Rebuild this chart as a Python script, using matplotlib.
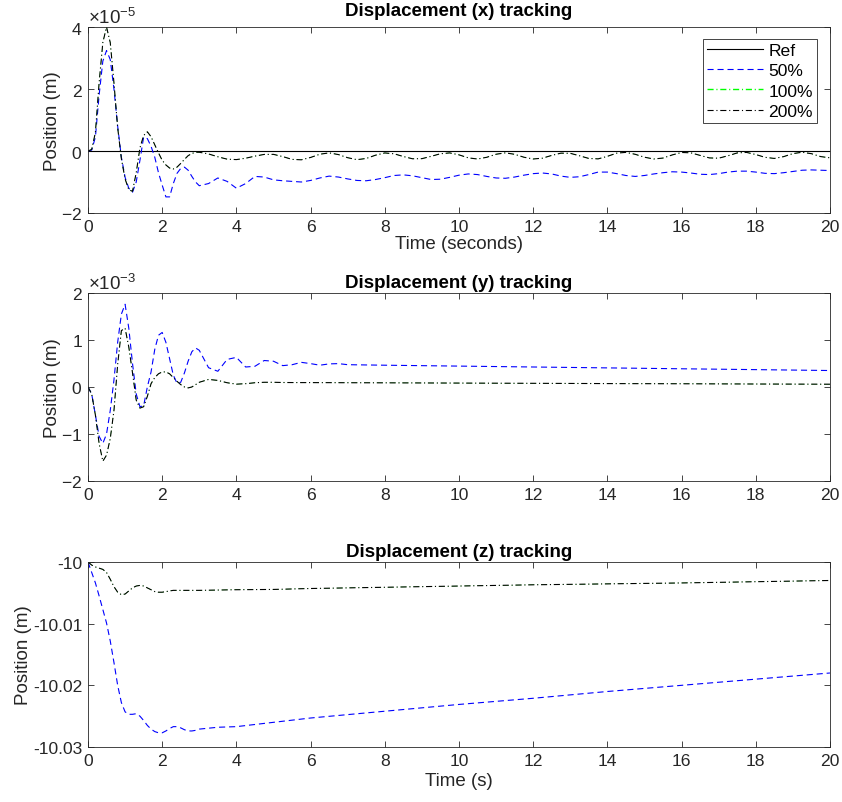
import numpy as np
import matplotlib
matplotlib.use('Agg')
import matplotlib.pyplot as plt
from matplotlib.lines import Line2D
from matplotlib.ticker import ScalarFormatter, FormatStrFormatter

plt.rcParams['font.family'] = ['Liberation Sans', 'DejaVu Sans']
plt.rcParams['font.size'] = 13
plt.rcParams['axes.unicode_minus'] = False
plt.rcParams['mathtext.default'] = 'regular'
plt.rcParams['lines.scale_dashes'] = False

# ---------- time samples ----------
t_head = np.round(np.arange(0, 3.01, 0.1), 1)          # 0.0 .. 3.0
t_x_tail = np.arange(3.25, 20.01, 0.25)                 # 3.25 .. 20.0
t_y_tail = [3.25, 3.5, 3.75, 4.0, 4.25, 4.5, 4.75, 5.0, 5.25, 5.5, 5.75, 6.0,
            6.25, 6.5, 6.75, 7.0, 8, 10, 12, 14, 16, 18, 20]
t_z_tail = [3.5, 4, 5, 6, 8, 10, 12, 14, 16, 18, 20]

# ---------- x displacement (x 1e-5 m) ----------
x_50_head = [0, 0.03, 0.45, 1.8, 2.9, 3.24, 2.95, 2.0, 0.8, -0.2,
             -0.85, -1.2, -1.33, -1.0, -0.3, 0.45, 0.4, 0.15, -0.2, -0.7,
             -1.1, -1.48, -1.48, -1.05, -0.72, -0.56, -0.52, -0.62, -0.82, -1.0,
             -1.12]
x_50_tail = [-1.05, -0.87, -0.98, -1.2,
             -1.05, -0.82, -0.84, -0.93,
             -0.96, -0.98, -1.0, -0.95,
             -0.87, -0.81, -0.84, -0.9,
             -0.95, -0.96, -0.92, -0.86,
             -0.79, -0.77, -0.8, -0.86,
             -0.92, -0.91, -0.85, -0.78,
             -0.74, -0.76, -0.82, -0.87,
             -0.88, -0.84, -0.78, -0.73,
             -0.71, -0.74, -0.81, -0.85,
             -0.83, -0.76, -0.68, -0.68,
             -0.73, -0.79, -0.82, -0.79,
             -0.74, -0.7, -0.67, -0.68,
             -0.71, -0.75, -0.76, -0.73,
             -0.68, -0.65, -0.65, -0.68,
             -0.72, -0.73, -0.7, -0.66,
             -0.62, -0.61, -0.62, -0.63]
x_200_head = [0, 0.05, 0.6, 2.2, 3.5, 4.0, 3.5, 2.2, 0.75, -0.25,
              -0.9, -1.25, -1.3, -0.7, 0.1, 0.5, 0.62, 0.46, 0.2, -0.06,
              -0.3, -0.45, -0.55, -0.58, -0.52, -0.4, -0.27, -0.15, -0.08, -0.04,
              -0.04]
x_200_tail = [-0.095, -0.186, -0.263, -0.277,
              -0.233, -0.165, -0.11, -0.108,
              -0.18, -0.27, -0.284, -0.208,
              -0.104, -0.06, -0.115, -0.216,
              -0.279, -0.241, -0.135, -0.062,
              -0.089, -0.178, -0.251, -0.247,
              -0.172, -0.088, -0.061, -0.124,
              -0.22, -0.259, -0.202, -0.104,
              -0.06, -0.106, -0.2, -0.258,
              -0.231, -0.142, -0.069, -0.074,
              -0.154, -0.24, -0.254, -0.172,
              -0.069, -0.044, -0.106, -0.2,
              -0.258, -0.227, -0.126, -0.047,
              -0.059, -0.142, -0.223, -0.232,
              -0.154, -0.062, -0.045, -0.113,
              -0.204, -0.239, -0.182, -0.084,
              -0.04, -0.086, -0.18, -0.22]

# ---------- y displacement (x 1e-3 m) ----------
y_50_head = [0, -0.15, -0.6, -1.05, -1.2, -1.0, -0.5, 0.15, 0.95, 1.55,
             1.76, 1.25, 0.5, -0.15, -0.42, -0.4, 0.0, 0.32, 0.8, 1.1,
             1.16, 0.95, 0.6, 0.25, 0.08, 0.1, 0.3, 0.55, 0.75, 0.83,
             0.78]
y_50_tail = [0.41, 0.334, 0.586, 0.63, 0.425, 0.44, 0.563, 0.548,
             0.454, 0.473, 0.524, 0.497, 0.463, 0.491, 0.497, 0.474,
             0.463, 0.444, 0.425, 0.406, 0.387, 0.369, 0.35]
y_200_head = [0, -0.15, -0.6, -1.2, -1.58, -1.45, -1.1, -0.5, 0.48, 1.2,
              1.25, 0.85, 0.3, -0.28, -0.45, -0.42, -0.2, 0.07, 0.2, 0.28,
              0.32, 0.32, 0.28, 0.2, 0.12, 0.05, 0.0, -0.02, 0.0, 0.05,
              0.1]
y_200_tail = [0.16, 0.14, 0.09, 0.06, 0.07, 0.09, 0.1, 0.1,
              0.095, 0.094, 0.093, 0.093, 0.092, 0.092, 0.091, 0.09,
              0.088, 0.083, 0.078, 0.072, 0.068, 0.063, 0.059]

# ---------- z displacement (m) ----------
z_50_head = [-10.0, -10.0017, -10.0034, -10.0055, -10.0077, -10.0099, -10.0128,
             -10.0163, -10.02, -10.0228, -10.0243, -10.0247, -10.0247, -10.0246,
             -10.025, -10.0257, -10.0265, -10.0271, -10.0275, -10.0277, -10.0277,
             -10.0274, -10.027, -10.0267, -10.0267, -10.0269, -10.0272, -10.0274,
             -10.0274, -10.0273, -10.0271]
z_50_tail = [-10.0268, -10.0267, -10.026, -10.0253, -10.0242, -10.0231,
             -10.0221, -10.021, -10.02, -10.019, -10.018]
z_200_head = [-10.0, -10.0005, -10.0008, -10.001, -10.0012, -10.0017, -10.0028,
              -10.004, -10.0049, -10.0053, -10.0052, -10.0047, -10.0042, -10.0039,
              -10.0038, -10.0039, -10.0042, -10.0045, -10.0048, -10.0049, -10.0049,
              -10.0048, -10.0047, -10.0046, -10.0046, -10.0046, -10.0046, -10.0046,
              -10.0046, -10.0046, -10.0046]
z_200_tail = [-10.00455, -10.0045, -10.00445, -10.0043, -10.0041, -10.0039,
              -10.0037, -10.00355, -10.0034, -10.0032, -10.003]

tx = np.concatenate([t_head, t_x_tail])
ty = np.concatenate([t_head, t_y_tail])
tz = np.concatenate([t_head, t_z_tail])
x50 = np.array(x_50_head + x_50_tail) * 1e-5
x200 = np.array(x_200_head + x_200_tail) * 1e-5
y50 = np.array(y_50_head + y_50_tail) * 1e-3
y200 = np.array(y_200_head + y_200_tail) * 1e-3
z50 = np.array(z_50_head + z_50_tail)
z200 = np.array(z_200_head + z_200_tail)

# ---------- styles ----------
DARK = '#262626'
LW = 0.8
DASHDOT = (0, (4.4, 2.0, 0.8, 2.0))
sty_ref = dict(color='k', lw=LW, ls='-')
sty_50 = dict(color='b', lw=LW, ls=(0, (4.4, 2.8)))
sty_100 = dict(color='#00ff00', lw=0.3, ls=DASHDOT)   # sits under the 200% curve
sty_200 = dict(color='k', lw=LW, ls=DASHDOT)
FS_TICK = 12.6
FS_LABEL = 13.5
YLAB_X = -0.036


def style_axes(ax):
    ax.set_xlim(0, 20)
    ax.set_xticks(range(0, 21, 2))
    ax.tick_params(direction='in', top=True, right=True, length=4.5, width=0.6,
                   colors=DARK, labelsize=FS_TICK, pad=4)
    for sp in ax.spines.values():
        sp.set_color(DARK)
        sp.set_linewidth(0.6)


def sci_axis(ax):
    fmt = ScalarFormatter(useMathText=True)
    fmt.set_powerlimits((0, 0))
    ax.yaxis.set_major_formatter(fmt)
    off = ax.yaxis.get_offset_text()
    off.set_color(DARK)
    off.set_fontsize(FS_LABEL)


fig = plt.figure(figsize=(8.42, 8.03), dpi=100)
ax1 = fig.add_axes([0.1045, 0.7335, 0.8812, 0.2316])
ax2 = fig.add_axes([0.1045, 0.3998, 0.8812, 0.2341])
ax3 = fig.add_axes([0.1045, 0.0685, 0.8812, 0.2304])

# x tracking
ax1.plot([0, 20], [0, 0], **sty_ref)
ax1.plot(tx, x50, **sty_50)
ax1.plot(tx, x200, **sty_100)
ax1.plot(tx, x200, **sty_200)
style_axes(ax1)
ax1.set_ylim(-2e-5, 4e-5)
ax1.set_yticks([-2e-5, 0, 2e-5, 4e-5])
sci_axis(ax1)
ax1.set_title('Displacement (x) tracking', fontweight='bold', fontsize=FS_LABEL, pad=9)
ax1.set_xlabel('Time (seconds)', color=DARK, fontsize=FS_LABEL, labelpad=1)
ax1.set_ylabel('Position (m)', color=DARK, fontsize=FS_LABEL)
ax1.yaxis.set_label_coords(YLAB_X, 0.5)

handles = [Line2D([], [], **sty_ref), Line2D([], [], **sty_50),
           Line2D([], [], **dict(sty_100, lw=1.0)), Line2D([], [], **sty_200)]
leg = ax1.legend(handles, ['Ref', '50%', '100%', '200%'], loc='upper right',
                 bbox_to_anchor=(0.982, 0.935), borderaxespad=0, fancybox=False,
                 edgecolor=DARK, framealpha=1, handlelength=3.2, labelspacing=0.28,
                 borderpad=0.22, handletextpad=0.3, fontsize=FS_TICK)
leg.get_frame().set_linewidth(0.6)

# y tracking
ax2.plot(ty, y50, **sty_50)
ax2.plot(ty, y200, **sty_100)
ax2.plot(ty, y200, **sty_200)
style_axes(ax2)
ax2.set_ylim(-2e-3, 2e-3)
ax2.set_yticks([-2e-3, -1e-3, 0, 1e-3, 2e-3])
sci_axis(ax2)
ax2.set_title('Displacement (y) tracking', fontweight='bold', fontsize=FS_LABEL, pad=4)
ax2.set_ylabel('Position (m)', color=DARK, fontsize=FS_LABEL)
ax2.yaxis.set_label_coords(YLAB_X, 0.5)

# z tracking
ax3.plot(tz, z50, **sty_50)
ax3.plot(tz, z200, **sty_100)
ax3.plot(tz, z200, **sty_200)
style_axes(ax3)
ax3.set_ylim(-10.03, -10.0)
ax3.set_yticks([-10.03, -10.02, -10.01, -10.0])
ax3.yaxis.set_major_formatter(FormatStrFormatter('%g'))
ax3.set_title('Displacement (z) tracking', fontweight='bold', fontsize=FS_LABEL, pad=4.5)
ax3.set_xlabel('Time (s)', color=DARK, fontsize=FS_LABEL, labelpad=3)
ax3.set_ylabel('Position (m)', color=DARK, fontsize=FS_LABEL, labelpad=1)

fig.savefig('out.png', dpi=100)
